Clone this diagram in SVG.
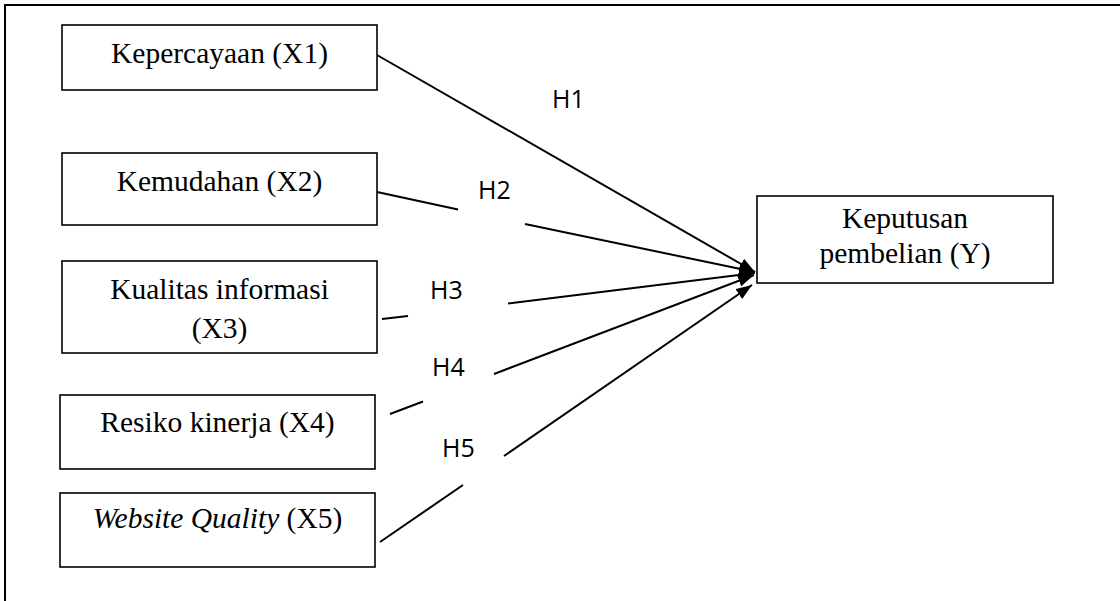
<svg xmlns="http://www.w3.org/2000/svg" width="1120" height="601" viewBox="0 0 1120 601">
<style>
.box{fill:#fff;stroke:#000;stroke-width:1.6}
.t{font-family:"Liberation Serif","Times New Roman",serif;font-size:29.5px;fill:#000;text-anchor:middle}
.h{font-family:"Open Sans","Liberation Sans",sans-serif;font-size:25px;fill:#000}
.c{fill:none;stroke:#000;stroke-width:2}
</style>
<defs>
<marker id="arr" markerUnits="userSpaceOnUse" markerWidth="18" markerHeight="14" refX="16" refY="6" orient="auto">
<path d="M0,0 L16,6 L0,12 Z" fill="#000"/>
</marker>
</defs>
<rect width="1120" height="601" fill="#fff"/>
<path d="M5,601 L5,5 L1120,5" fill="none" stroke="#000" stroke-width="2"/>
<g id="connectors">
<path class="c" d="M377,55 L755,272" marker-end="url(#arr)"/>
<path class="c" d="M377,192 L458,209.5 M525,224 L755,272" marker-end="url(#arr)"/>
<path class="c" d="M382,319 L408,316 M508,303.5 L755,273" marker-end="url(#arr)"/>
<path class="c" d="M390,414 L423,401.5 M494,374 L754,275" marker-end="url(#arr)"/>
<path class="c" d="M380,542 L463,485 M504,456 L752,285" marker-end="url(#arr)"/>
</g>
<g id="labels">
<text class="h" x="552" y="108">H1</text>
<text class="h" x="478" y="199">H2</text>
<text class="h" x="430" y="299">H3</text>
<text class="h" x="432" y="376">H4</text>
<text class="h" x="442" y="457">H5</text>
</g>
<g id="x1"><rect class="box" x="62" y="25" width="315" height="65"/><text class="t" x="219.5" y="63">Kepercayaan (X1)</text></g>
<g id="x2"><rect class="box" x="62" y="153" width="315" height="72"/><text class="t" x="219.5" y="191">Kemudahan (X2)</text></g>
<g id="x3"><rect class="box" x="62" y="261" width="315" height="92"/><text class="t" x="219.5" y="299">Kualitas informasi</text><text class="t" x="219.5" y="338">(X3)</text></g>
<g id="x4"><rect class="box" x="60" y="395" width="315" height="74"/><text class="t" x="217.5" y="432">Resiko kinerja (X4)</text></g>
<g id="x5"><rect class="box" x="60" y="493" width="315" height="74"/><text class="t" x="217.5" y="528"><tspan font-style="italic">Website Quality</tspan> (X5)</text></g>
<g id="y"><rect class="box" x="757" y="196" width="296" height="87"/><text class="t" x="905" y="228">Keputusan</text><text class="t" x="905" y="263">pembelian (Y)</text></g>
</svg>
